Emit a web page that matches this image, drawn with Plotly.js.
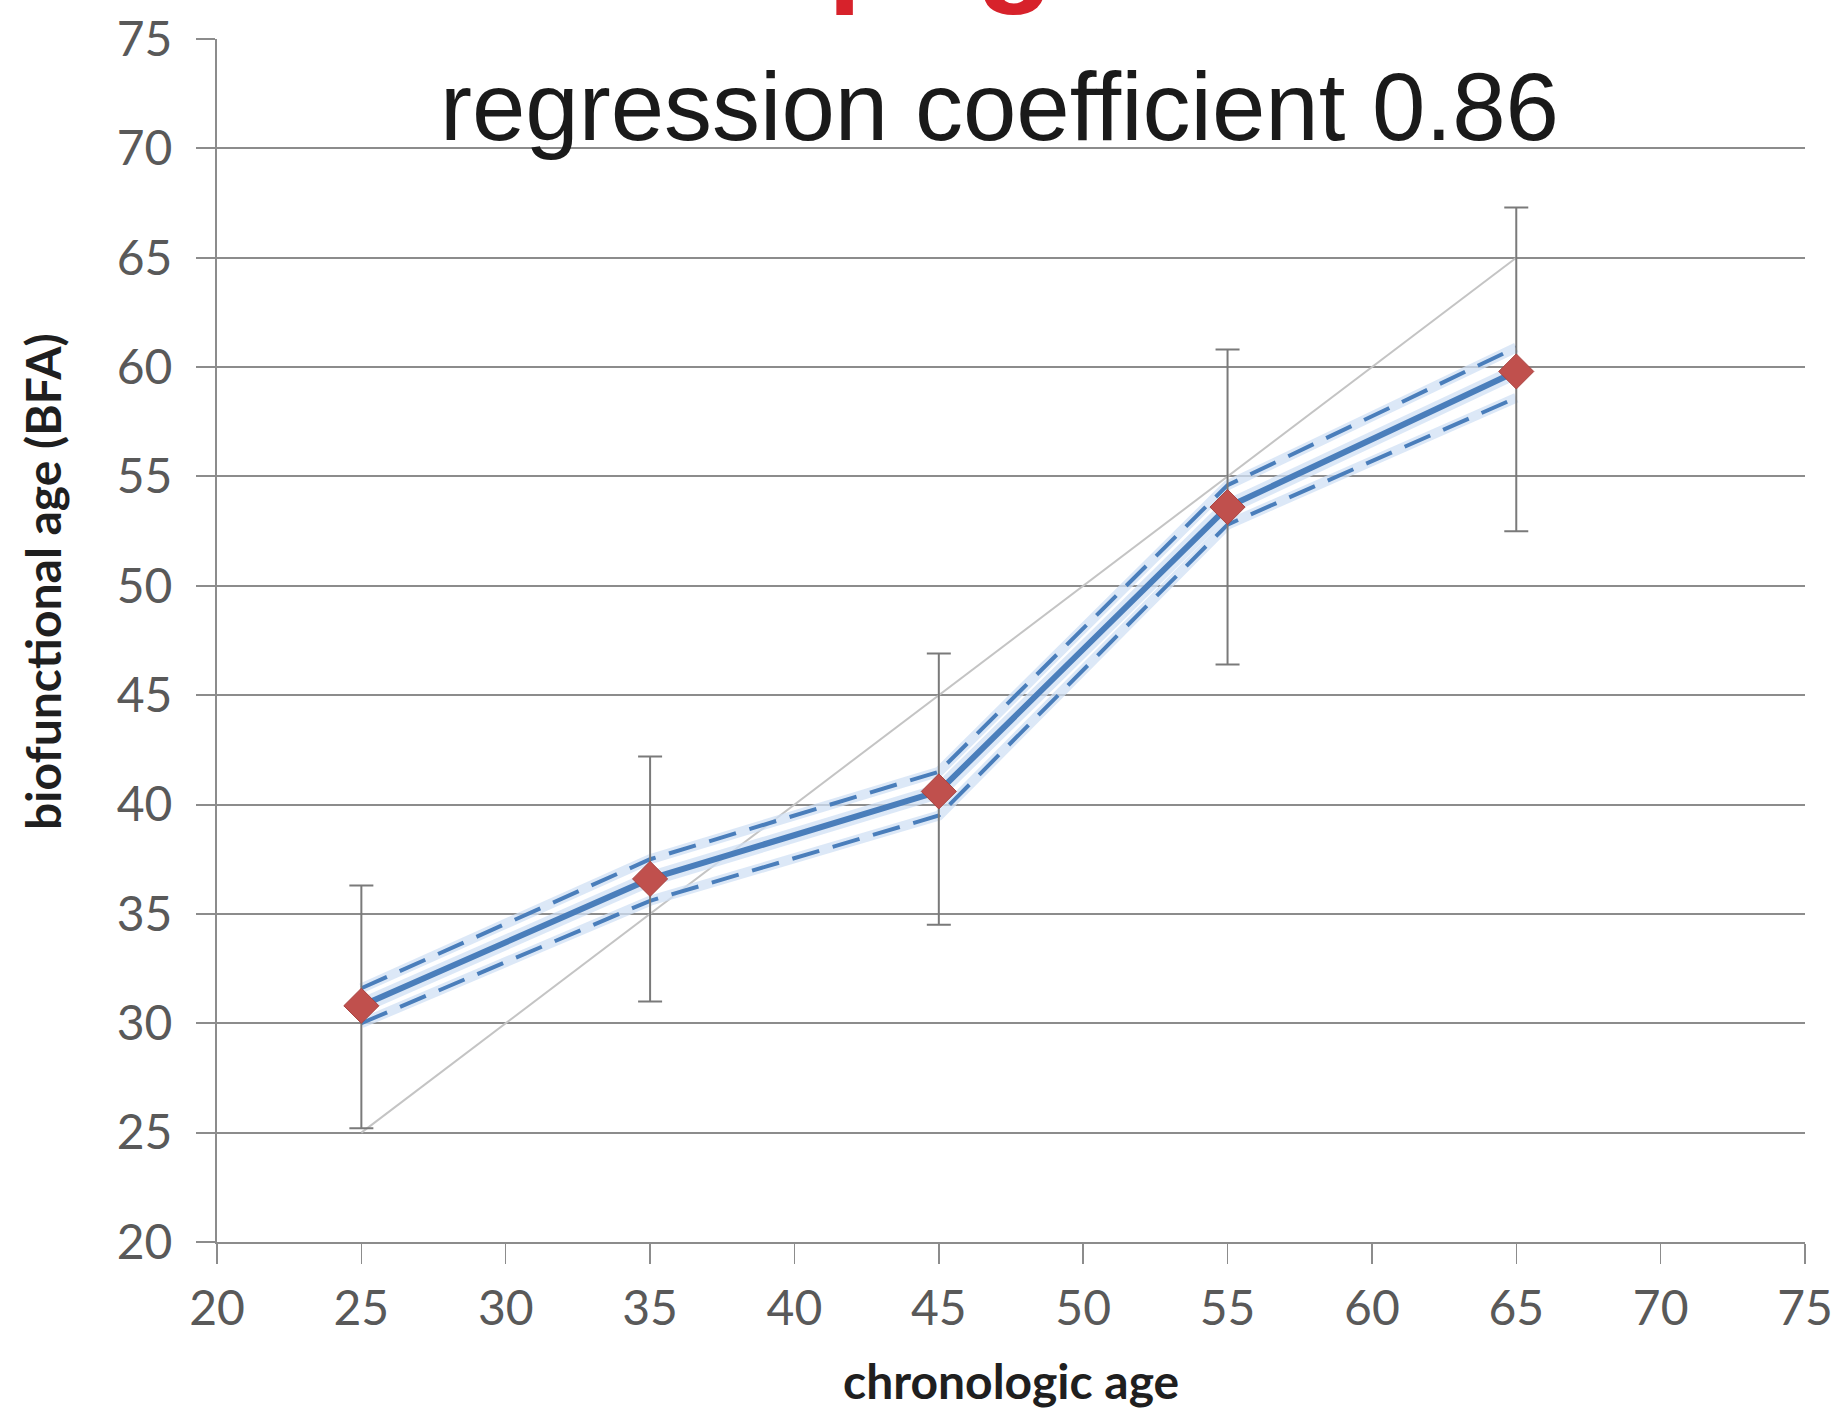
<!DOCTYPE html>
<html>
<head>
<meta charset="utf-8">
<script src="https://cdn.plot.ly/plotly-3.0.1.min.js"></script>
<style>
  html, body { margin: 0; padding: 0; background: #ffffff; }
  #chart { width: 1840px; height: 1412px; }
</style>
</head>
<body>
<div id="chart"></div>
<script>
// ---- data ----
const chronologicAge = [25, 35, 45, 55, 65];
const biofunctionalAge = [30.8, 36.6, 40.6, 53.6, 59.8];
const sdPlus  = [5.5, 5.6, 6.3, 7.2, 7.5];
const sdMinus = [5.6, 5.6, 6.1, 7.2, 7.3];
const ciUpper = [31.6, 37.5, 41.5, 54.6, 60.9];
const ciLower = [30.0, 35.6, 39.5, 52.8, 58.6];
const identityX = [25, 65];
const identityY = [25, 65];
const tickValues = [20, 25, 30, 35, 40, 45, 50, 55, 60, 65, 70, 75];
const titleText = "regression coefficient 0.86";
const xTitleText = "chronologic age";
const yTitleText = "biofunctional age (BFA)";

const blue = "#4a7ebb";
const halo = "rgba(208,224,244,0.75)";
const gridGray = "#8c8c8c";

const traces = [
  // identity line
  { x: identityX, y: identityY, mode: "lines", line: { color: "#c4c4c4", width: 2 }, hoverinfo: "skip" },
  // glow halos
  { x: chronologicAge, y: ciUpper, mode: "lines", line: { color: halo, width: 10 }, hoverinfo: "skip" },
  { x: chronologicAge, y: ciLower, mode: "lines", line: { color: halo, width: 10 }, hoverinfo: "skip" },
  { x: chronologicAge, y: biofunctionalAge, mode: "lines", line: { color: halo, width: 15 }, hoverinfo: "skip" },
  // confidence lines (dashed)
  { x: chronologicAge, y: ciUpper, mode: "lines", line: { color: blue, width: 4, dash: "28px,14px" }, hoverinfo: "skip" },
  { x: chronologicAge, y: ciLower, mode: "lines", line: { color: blue, width: 4, dash: "28px,14px" }, hoverinfo: "skip" },
  // main line with error bars and markers
  {
    x: chronologicAge, y: biofunctionalAge, mode: "lines+markers",
    line: { color: blue, width: 6 },
    marker: { symbol: "diamond", size: 27, color: "#c0504d", line: { color: "#a94441", width: 1 } },
    error_y: { type: "data", symmetric: false, array: sdPlus, arrayminus: sdMinus,
               color: "#7a7a7a", thickness: 2, width: 12 }
  }
];

const layout = {
  width: 1840, height: 1412,
  paper_bgcolor: "#ffffff", plot_bgcolor: "#ffffff",
  showlegend: false,
  margin: { l: 217, r: 35, t: 39, b: 170 },
  font: { family: "Lato, 'Open Sans', sans-serif", color: "#595959" },
  xaxis: {
    range: [20, 75], tickvals: tickValues, ticktext: tickValues.map(String),
    showgrid: false, zeroline: false,
    showline: true, linecolor: gridGray, linewidth: 2,
    ticks: "outside", ticklen: 20, tickwidth: 1.5, tickcolor: gridGray,
    tickfont: { family: "Lato", size: 48, color: "#595959" },
    ticklabelstandoff: 3
  },
  yaxis: {
    range: [20, 75], tickvals: tickValues, ticktext: tickValues.map(String),
    showgrid: true, gridcolor: gridGray, gridwidth: 2, zeroline: false,
    showline: true, linecolor: gridGray, linewidth: 2,
    ticks: "outside", ticklen: 19, tickwidth: 2, tickcolor: gridGray,
    tickfont: { family: "Lato", size: 48, color: "#595959" },
    ticklabelstandoff: 14
  },
  annotations: [
    { text: titleText, xref: "paper", yref: "paper", x: 0.493, y: 0.944,
      xanchor: "center", yanchor: "middle", showarrow: false,
      font: { family: "Liberation Sans, Arial, sans-serif", size: 96, color: "#1a1a1a" } },
    { text: xTitleText, xref: "paper", yref: "paper", x: 0.5, y: -0.1155,
      xanchor: "center", yanchor: "middle", showarrow: false,
      font: { family: "Lato", size: 48, color: "#1f1f1f", weight: "bold" } },
    { text: yTitleText, xref: "paper", yref: "paper", x: -0.1096, y: 0.5495,
      xanchor: "center", yanchor: "middle", showarrow: false, textangle: -90,
      font: { family: "Lato", size: 48, color: "#1f1f1f", weight: "bold" } },
    // red heading cut off at the top of the picture (only descenders visible)
    { text: "p", xref: "paper", yref: "paper", x: 0.3835, y: 1.0183,
      xanchor: "left", yanchor: "bottom", showarrow: false,
      font: { family: "Liberation Sans, Arial, sans-serif", size: 120, color: "#d7222b", weight: "bold" } },
    { text: "g", xref: "paper", yref: "paper", x: 0.4767, y: 1.0183,
      xanchor: "left", yanchor: "bottom", showarrow: false,
      font: { family: "Liberation Sans, Arial, sans-serif", size: 128, color: "#d7222b", weight: "bold" } }
  ]
};

Plotly.newPlot("chart", traces, layout, { displayModeBar: false, staticPlot: true });
</script>
</body>
</html>
